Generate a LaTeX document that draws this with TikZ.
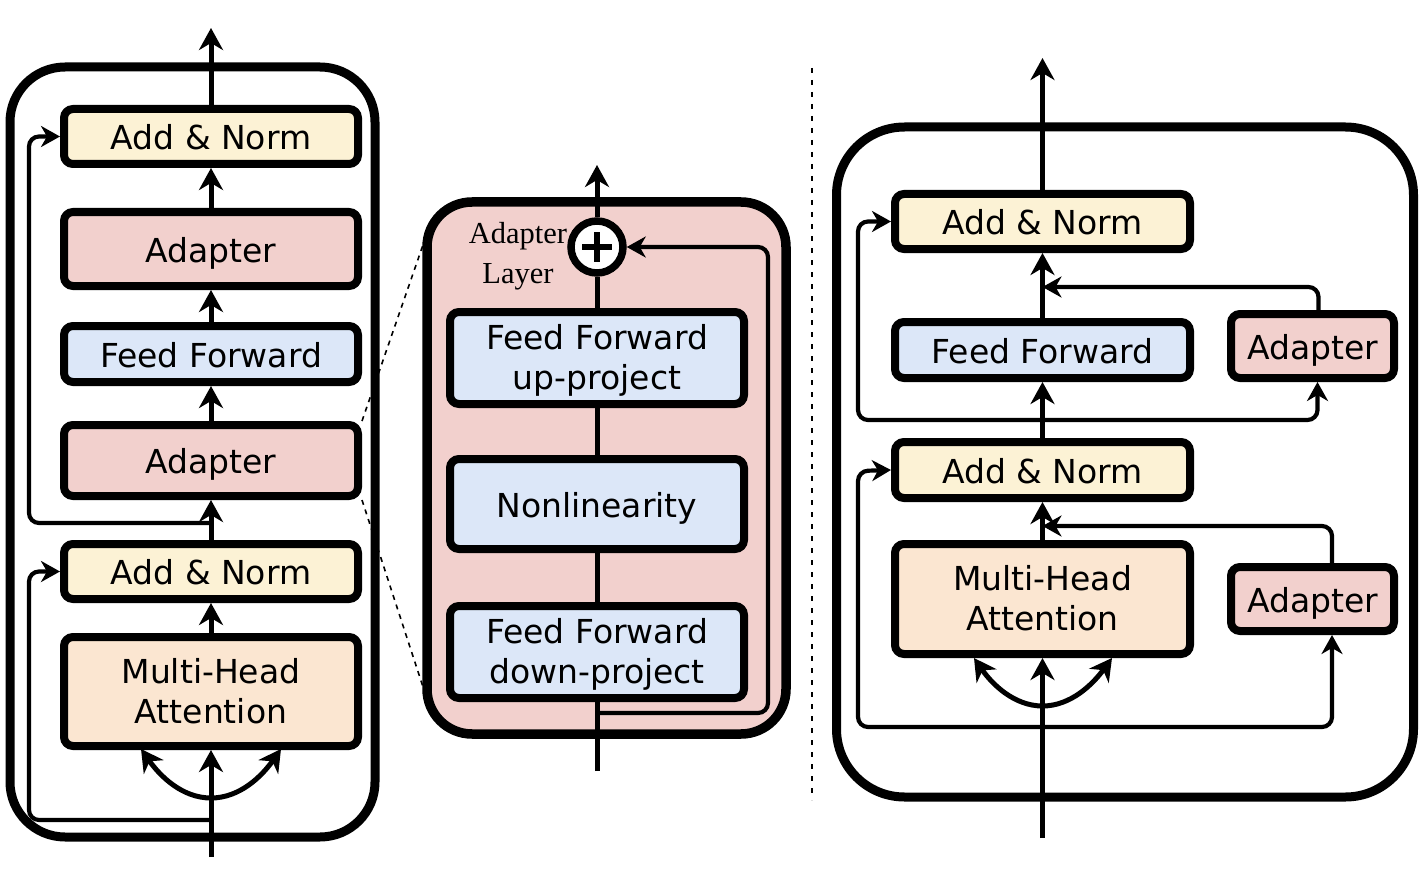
\documentclass[tikz,border=0pt]{standalone}
\usepackage{fontspec}
\setmainfont{DejaVu Sans}
\newfontfamily\capfont{Liberation Serif}
\usetikzlibrary{arrows.meta}
\definecolor{normY}{HTML}{FCF2D5}
\definecolor{adaP}{HTML}{F2D0CD}
\definecolor{ffB}{HTML}{DCE7F8}
\definecolor{mhaO}{HTML}{FBE6D1}
\begin{document}
\begin{tikzpicture}[x=1pt,y=-1pt,
  blk/.style={draw, line width=8pt, rounded corners=9pt, align=center, inner sep=0pt,
    font=\fontsize{33}{40}\selectfont, minimum width=294pt, text height=26pt, text depth=0pt},
  twoline/.style={text height=66pt, text depth=3pt},
  normbox/.style={blk, fill=normY, minimum height=55pt},
  adabox/.style={blk, fill=adaP},
  ffbox/.style={blk, fill=ffB},
  mhabox/.style={blk, twoline, fill=mhaO, minimum height=109pt},
  frame/.style={draw, line width=9pt, rounded corners=#1, inner sep=0pt},
  tip/.style={-{Stealth[length=22pt,width=24pt,inset=7pt]}},
  arr/.style={line width=5pt, tip},
  ln/.style={line width=5pt},
  skip/.style={line width=4.2pt, rounded corners=10pt, -{Stealth[length=19pt,width=21pt,inset=6pt]}},
  guide/.style={line width=1.6pt, dash pattern=on 5pt off 5pt},
]
\useasboundingbox (0,0) rectangle (1428,872);

% ---------- zoom guides and separator ----------
\coordinate (Gt) at (424,242);
\coordinate (Gb) at (424,690);
\coordinate (Sa) at (812,68);
\coordinate (Sb) at (812,800);
\draw[line width=1.8pt, dash pattern=on 5pt off 7pt] (Sa) -- (Sb);

% ---------- left: transformer layer with serial adapters ----------
\node[frame=55pt, minimum width=365pt, minimum height=770pt] (LOUT) at (192.5,452) {};
\node[normbox] (LAN2) at (211,136.5) {Add \& Norm};
\node[adabox, minimum height=74pt] (LAD2) at (211,249) {Adapter};
\node[ffbox, minimum height=56pt] (LFF) at (211,354) {Feed Forward};
\node[adabox, minimum height=71pt] (LAD1) at (211,460.5) {Adapter};
\node[normbox] (LAN1) at (211,571.5) {Add \& Norm};
\node[mhabox] (LMH) at (211,691.5) {Multi-Head\\Attention};

\draw[guide] (LAD1.north east) -- (Gt);
\draw[guide] (LAD1.south east) -- (Gb);

\coordinate (Ltop) at (211,28);
\coordinate (Lin) at (211,857);
\coordinate (Ls2) at (211,523);
\coordinate (Ls1) at (211,820);
\coordinate (Lc) at (211,798);
\coordinate (Lcl) at (141,749);
\coordinate (Lcr) at (281,749);

\draw[arr] (LAN2.north) -- (Ltop);
\draw[arr] (LAD2.north) -- (LAN2.south);
\draw[arr] (LFF.north) -- (LAD2.south);
\draw[arr] (LAD1.north) -- (LFF.south);
\draw[arr] (LAN1.north) -- (LAD1.south);
\draw[arr] (LMH.north) -- (LAN1.south);
\draw[arr] (Lin) -- (LMH.south);
\draw[arr] (Lc) .. controls (182,798) and (160,776) .. (Lcl);
\draw[arr] (Lc) .. controls (240,798) and (262,776) .. (Lcr);
\draw[skip] (Ls2) -- (29,523) -- (29,136.5) -- (LAN2.west);
\draw[skip] (Ls1) -- (29,820) -- (29,571.5) -- (LAN1.west);

% ---------- middle: inside the adapter ----------
\node[frame=45pt, fill=adaP, minimum width=359pt, minimum height=532pt, line width=9.5pt] (MBOX) at (606.5,468) {};
\node[ffbox, twoline, minimum height=92pt] (MUP) at (597,358) {Feed Forward\\up-project};
\node[ffbox, minimum height=90pt] (MNL) at (597,504) {Nonlinearity};
\node[ffbox, twoline, minimum height=92pt] (MDN) at (597,652) {Feed Forward\\down-project};
\node[align=center, inner sep=0pt, font=\capfont\fontsize{30.5}{40}\selectfont] (MLBL) at (518,256) {Adapter\\Layer};
\node[circle, draw, line width=7.5pt, fill=white, minimum size=52pt, inner sep=0pt] (MPL) at (597,247) {};
\draw[line width=5.5pt] (MPL.center) ++(-15,0) -- ++(30,0);
\draw[line width=5.5pt] (MPL.center) ++(0,-15) -- ++(0,30);

\coordinate (Mtop) at (597,165);
\coordinate (Min) at (597,771);
\coordinate (Ms) at (597,713);

\draw[arr] (MPL.north) -- (Mtop);
\draw[ln] (MUP.north) -- (MPL.south);
\draw[ln] (MNL.north) -- (MUP.south);
\draw[ln] (MDN.north) -- (MNL.south);
\draw[ln] (Min) -- (MDN.south);
\draw[skip] (Ms) -- (768,713) -- (768,247) -- (MPL.east);

% ---------- right: parallel adapters ----------
\node[frame=68pt, minimum width=577pt, minimum height=670pt] (ROUT) at (1125,462) {};
\node[normbox, minimum width=295pt] (RAN2) at (1042.5,221.5) {Add \& Norm};
\node[ffbox, minimum width=295pt, minimum height=56pt] (RFF) at (1042.5,350) {Feed Forward};
\node[normbox, minimum width=295pt, minimum height=56pt] (RAN1) at (1042.5,470) {Add \& Norm};
\node[mhabox, minimum width=295pt, minimum height=110pt] (RMH) at (1042.5,599) {Multi-Head\\Attention};
\node[adabox, minimum width=163pt, minimum height=64pt] (RAD2) at (1312.5,346) {Adapter};
\node[adabox, minimum width=163pt, minimum height=64pt] (RAD1) at (1312.5,599) {Adapter};

\coordinate (Rtop) at (1042.5,58);
\coordinate (Rin) at (1042.5,838);
\coordinate (Rs2) at (1042.5,420);
\coordinate (Rs1) at (1042.5,727);
\coordinate (Rj2) at (1042.5,287);
\coordinate (Rj1) at (1042.5,526);
\coordinate (Rc) at (1042.5,706);
\coordinate (Rcl) at (974,658);
\coordinate (Rcr) at (1112,658);

\draw[arr] (RAN2.north) -- (Rtop);
\draw[arr] (RFF.north) -- (RAN2.south);
\draw[arr] (RAN1.north) -- (RFF.south);
\draw[arr] (RMH.north) -- (RAN1.south);
\draw[arr] (Rin) -- (RMH.south);
\draw[arr] (Rc) .. controls (1014,706) and (992,684) .. (Rcl);
\draw[arr] (Rc) .. controls (1071,706) and (1093,684) .. (Rcr);
\draw[skip] (Rs2) -- (858,420) -- (858,221.5) -- (RAN2.west);
\draw[skip] (Rs2) -| ([xshift=5pt]RAD2.south);
\draw[skip] ([xshift=6pt]RAD2.north) |- (Rj2);
\draw[skip] (Rs1) -- (858,727) -- (858,471) -- (RAN1.west);
\draw[skip] (Rs1) -| ([xshift=19.5pt]RAD1.south);
\draw[skip] ([xshift=19.5pt]RAD1.north) |- (Rj1);
\end{tikzpicture}
\end{document}
